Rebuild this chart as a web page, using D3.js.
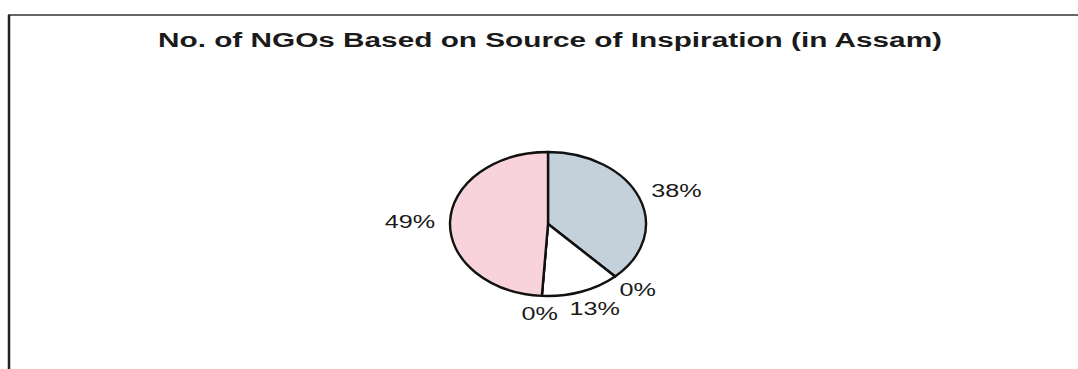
<!DOCTYPE html>
<html>
<head>
<meta charset="utf-8">
<script src="https://cdn.jsdelivr.net/npm/d3@7"></script>
<style>
  body { margin: 0; background: #fff; }
  text { font-family: "Liberation Sans", Arial, sans-serif; fill: #1a1a1a; }
</style>
</head>
<body>
<div id="chart"></div>
<script>
// data
var categories = ["Source 1", "Source 2", "Source 3", "Source 4", "Source 5"];
var values = [38, 0, 13, 0, 49];
var colors = ["#c4d0da", "#dde4ec", "#ffffff", "#eeeeee", "#f8d3db"];
var title = "No. of NGOs Based on Source of Inspiration (in Assam)";

var width = 1078, height = 369;

var svg = d3.select("#chart")
    .append("svg")
    .attr("width", width)
    .attr("height", height);

// frame (only top and left edge show in the scan)
svg.append("line")
    .attr("x1", 8).attr("y1", 15).attr("x2", width).attr("y2", 15)
    .attr("stroke", "#333").attr("stroke-width", 1.5);
svg.append("line")
    .attr("x1", 9).attr("y1", 15).attr("x2", 9).attr("y2", height)
    .attr("stroke", "#222").attr("stroke-width", 2.5);

// title, stretched like the scan
svg.append("text")
    .attr("x", 158)
    .attr("y", 47)
    .attr("textLength", 784)
    .attr("lengthAdjust", "spacingAndGlyphs")
    .style("font-size", "20px")
    .style("font-weight", "bold")
    .text(title);

// the pie is drawn round then stretched sideways
var ry = 72, rx = 98;
var sx = rx / ry;
var g = svg.append("g")
    .attr("transform", "translate(548,224) scale(" + sx + ",1)");

var pie = d3.pie().sort(null).value(function (d) { return d; });
var arcs = pie(values);
var total = d3.sum(values);

var arc = d3.arc().innerRadius(0).outerRadius(ry);

g.selectAll(".slice")
    .data(arcs)
    .enter().append("path")
    .attr("class", "slice")
    .attr("d", arc)
    .attr("fill", function (d, i) { return colors[i]; })
    .attr("stroke", "#111")
    .attr("stroke-width", 2.4)
    .attr("stroke-linejoin", "round")
    .attr("vector-effect", "non-scaling-stroke");

// labels outside the pie
var labelR = 83;
var fontSize = 18.5;

g.selectAll(".lbl")
    .data(arcs)
    .enter().append("text")
    .attr("class", "lbl")
    .style("font-size", fontSize + "px")
    .attr("text-anchor", "middle")
    .attr("dy", "0.35em")
    .text(function (d) { return Math.round(d.value / total * 100) + "%"; })
    .each(function (d) {
        var a = (d.startAngle + d.endAngle) / 2;
        var w = this.getComputedTextLength();
        var h = fontSize * 0.75;
        var x = Math.sin(a) * labelR + Math.sin(a) * w / 2;
        var y = -Math.cos(a) * labelR - Math.cos(a) * h / 2;
        d3.select(this).attr("x", x).attr("y", y);
    });
</script>
</body>
</html>
